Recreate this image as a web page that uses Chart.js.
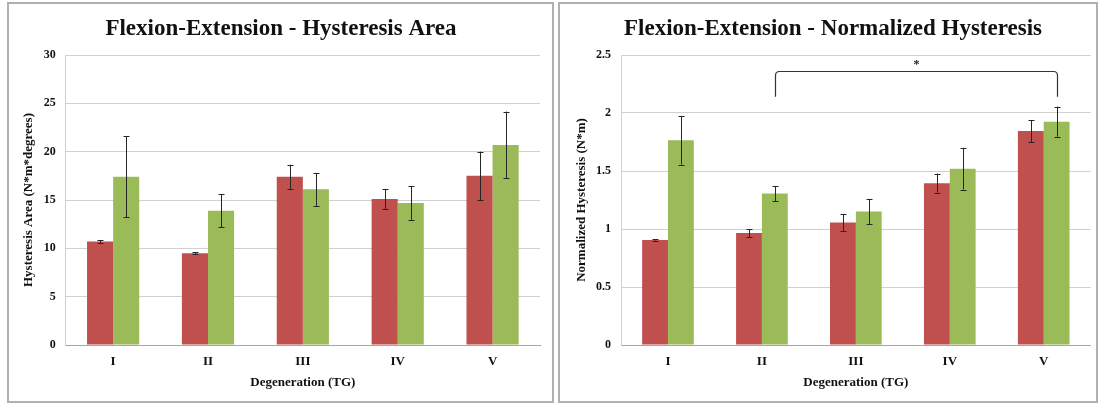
<!DOCTYPE html>
<html>
<head>
<meta charset="utf-8">
<script src="https://cdn.jsdelivr.net/npm/chart.js@4"></script>
<style>
  html, body { margin: 0; padding: 0; background: #ffffff; }
  body { width: 1098px; height: 404px; position: relative; overflow: hidden; }
  .box { position: absolute; border: 2px solid #b0b0b0; box-sizing: border-box; background: #fff; overflow: hidden; }
  #boxL { left: 7px; top: 2px; width: 547px; height: 401px; }
  #boxR { left: 558px; top: 2px; width: 540px; height: 401px; }
  .box canvas { position: absolute; left: 0; top: 0; }
</style>
</head>
<body>
<div class="box" id="boxL"><canvas id="cL" width="544" height="397"></canvas></div>
<div class="box" id="boxR"><canvas id="cR" width="546" height="397"></canvas></div>
<script>
// ---- data ----
const categories = ['I', 'II', 'III', 'IV', 'V'];

const areaRed = [10.7, 9.5, 17.4, 15.1, 17.5];
const areaRedErr = [0.15, 0.08, 1.25, 1.05, 2.5];
const areaGreen = [17.4, 13.9, 16.1, 14.7, 20.7];
const areaGreenErr = [4.2, 1.7, 1.7, 1.75, 3.45];

const normRed = [0.905, 0.965, 1.055, 1.395, 1.845];
const normRedErr = [0.005, 0.033, 0.072, 0.083, 0.095];
const normGreen = [1.765, 1.305, 1.15, 1.52, 1.925];
const normGreenErr = [0.21, 0.065, 0.11, 0.18, 0.13];

// significance bracket: from green bar of II to green bar of V
const sigFrom = 1.14;
const sigTo = 4.14;
const sigTop = 2.36;
const sigBottom = 2.14;
const sigLabel = '*';

const RED = '#c0504d';
const GREEN = '#9bbb59';
const SERIF = "'Liberation Serif', 'Times New Roman', serif";

const errorBarPlugin = {
  id: 'errorBars',
  afterDatasetsDraw(chart) {
    const ctx = chart.ctx;
    const y = chart.scales.y;
    ctx.save();
    ctx.strokeStyle = '#262626';
    ctx.lineWidth = 1;
    chart.data.datasets.forEach((ds, di) => {
      const meta = chart.getDatasetMeta(di);
      meta.data.forEach((el, i) => {
        const v = ds.data[i], e = ds.errors[i];
        const x = Math.round(el.x) + 0.5;
        const yt = y.getPixelForValue(v + e);
        const yb = y.getPixelForValue(v - e);
        ctx.beginPath();
        ctx.moveTo(x, yt); ctx.lineTo(x, yb);
        ctx.moveTo(x - 3, Math.round(yt) + 0.5); ctx.lineTo(x + 3, Math.round(yt) + 0.5);
        ctx.moveTo(x - 3, Math.round(yb) + 0.5); ctx.lineTo(x + 3, Math.round(yb) + 0.5);
        ctx.stroke();
      });
    });
    ctx.restore();
  }
};

const bracketPlugin = {
  id: 'sigBracket',
  afterDatasetsDraw(chart, args, opts) {
    if (!opts || !opts.show) return;
    const ctx = chart.ctx;
    const xs = chart.scales.x, ys = chart.scales.y;
    const x1 = Math.round(xs.getPixelForValue(opts.from)) + 0.5;
    const x2 = Math.round(xs.getPixelForValue(opts.to)) + 0.5;
    const yT = Math.round(ys.getPixelForValue(opts.top)) + 0.5;
    const yB = ys.getPixelForValue(opts.bottom);
    const r = 4;
    ctx.save();
    ctx.strokeStyle = '#333';
    ctx.lineWidth = 1.2;
    ctx.beginPath();
    ctx.moveTo(x1, yB);
    ctx.lineTo(x1, yT + r);
    ctx.quadraticCurveTo(x1, yT, x1 + r, yT);
    ctx.lineTo(x2 - r, yT);
    ctx.quadraticCurveTo(x2, yT, x2, yT + r);
    ctx.lineTo(x2, yB);
    ctx.stroke();
    ctx.fillStyle = '#222';
    ctx.font = 'bold 12px ' + SERIF;
    ctx.textAlign = 'center';
    ctx.textBaseline = 'bottom';
    ctx.fillText(opts.label, (x1 + x2) / 2, yT - 1);
    ctx.restore();
  }
};

function makeChart(id, title, yTitle, red, redErr, green, greenErr, yMax, yStep, yWidth, rightPad, yTitlePad, bracket) {
  return new Chart(document.getElementById(id), {
    type: 'bar',
    data: {
      labels: categories,
      datasets: [
        { data: red, errors: redErr, backgroundColor: RED, borderWidth: 0 },
        { data: green, errors: greenErr, backgroundColor: GREEN, borderWidth: 0 }
      ]
    },
    options: {
      responsive: false,
      animation: false,
      devicePixelRatio: 1,
      categoryPercentage: 0.55,
      barPercentage: 1.0,
      layout: { padding: 0 },
      plugins: {
        legend: { display: false },
        tooltip: { enabled: false },
        title: {
          display: true,
          text: title,
          color: '#111',
          font: { family: SERIF, size: 23, weight: 'bold', lineHeight: 1.2 },
          padding: { top: 11, bottom: 12.4 }
        },
        sigBracket: bracket
      },
      scales: {
        x: {
          grid: { display: false, drawTicks: false },
          border: { color: '#a6a6a6', width: 1 },
          ticks: { color: '#111', padding: 9, font: { family: SERIF, size: 13, weight: 'bold' } },
          title: {
            display: true,
            text: 'Degeneration (TG)',
            color: '#111',
            font: { family: SERIF, size: 13, weight: 'bold', lineHeight: 1.2 },
            padding: { top: 0, bottom: 11 }
          },
          afterFit(s) { s.height = 56; }
        },
        y: {
          min: 0,
          max: yMax,
          ticks: {
            stepSize: yStep,
            color: '#111',
            padding: 10,
            font: { family: SERIF, size: 12, weight: 'bold' },
            callback: (v) => String(v)
          },
          grid: { color: '#d0d0d0', drawTicks: false },
          border: { color: '#d0d0d0', width: 1 },
          title: {
            display: true,
            text: yTitle,
            color: '#111',
            font: { family: SERIF, size: 13, weight: 'bold', lineHeight: 1.2 },
            padding: { top: yTitlePad, bottom: 0 }
          },
          afterFit(s) { s.width = yWidth; }
        },
        spacer: {
          type: 'linear',
          position: 'right',
          display: true,
          grid: { display: false, drawOnChartArea: false, drawTicks: false },
          ticks: { display: false },
          border: { display: false },
          afterFit(s) { s.width = rightPad; }
        }
      }
    },
    plugins: [errorBarPlugin, bracketPlugin]
  });
}

makeChart('cL', 'Flexion-Extension - Hysteresis Area', 'Hysteresis Area (N*m*degrees)',
  areaRed, areaRedErr, areaGreen, areaGreenErr, 30, 5, 56.7, 13, 12, { show: false });

makeChart('cR', 'Flexion-Extension - Normalized Hysteresis', 'Normalized Hysteresis (N*m)',
  normRed, normRedErr, normGreen, normGreenErr, 2.5, 0.5, 61, 15.3, 14,
  { show: true, from: sigFrom, to: sigTo, top: sigTop, bottom: sigBottom, label: sigLabel });
</script>
</body>
</html>
